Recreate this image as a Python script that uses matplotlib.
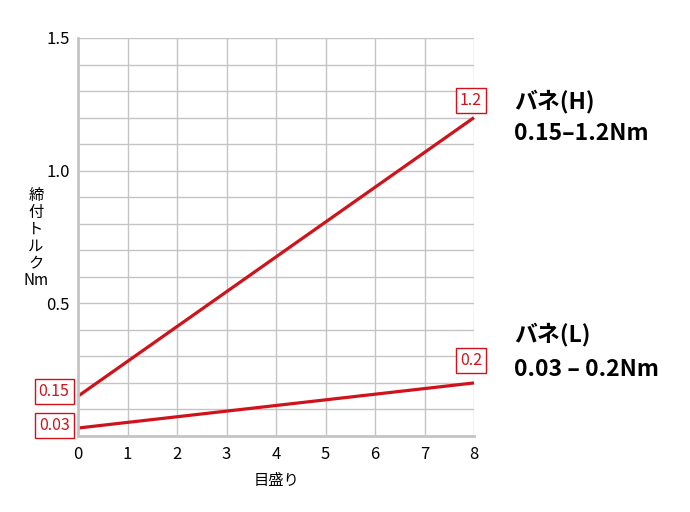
import numpy as np
import matplotlib
matplotlib.use("Agg")
import matplotlib.pyplot as plt

plt.rcParams['font.family'] = ['Noto Sans CJK JP', 'DejaVu Sans']

# data
scale_x = [0, 8]
spring_h = [0.15, 1.2]
spring_l = [0.03, 0.2]
x_ticks = [0, 1, 2, 3, 4, 5, 6, 7, 8]
y_ticks = [0.5, 1.0, 1.5]
y_label = ['締', '付', 'ト', 'ル', 'ク', 'Nm']
x_label = '目盛り'
h_title = ['バネ(H)', '0.15–1.2Nm']
l_title = ['バネ(L)', '0.03 – 0.2Nm']

red = '#d0121b'
grey = '#c4c4c4'

fig = plt.figure(figsize=(6.9, 5.12), dpi=100)
ax = fig.add_axes([78/690, 76/512, 396/690, 398/512])

ax.set_xlim(0, 8)
ax.set_ylim(0, 1.5)
ax.set_xticks(x_ticks)
ax.set_yticks(y_ticks)
ax.set_yticklabels(['%.1f' % v for v in y_ticks])
ax.set_yticks(np.arange(0, 1.51, 0.1), minor=True)
ax.grid(True, which='both', color=grey, lw=1.0)
ax.tick_params(which='both', length=0, labelsize=12, pad=7)
ax.tick_params(axis='y', pad=6)
for s in ['top', 'right']:
    ax.spines[s].set_visible(False)
for s in ['left', 'bottom']:
    ax.spines[s].set_color(grey)
    ax.spines[s].set_linewidth(2)
ax.set_axisbelow(True)

ax.plot(scale_x, spring_h, color=red, lw=2.3, clip_on=False, solid_capstyle='butt')
ax.plot(scale_x, spring_l, color=red, lw=2.3, clip_on=False, solid_capstyle='butt')

box = dict(boxstyle='square,pad=0.25', fc='white', ec=red, lw=1)
ax.text(-0.17, spring_h[0] + 0.018, '%.2f' % spring_h[0], color=red, fontsize=11.5,
        ha='right', va='center', bbox=box, clip_on=False)
ax.text(-0.17, spring_l[0] + 0.008, '%.2f' % spring_l[0], color=red, fontsize=11.5,
        ha='right', va='center', bbox=box, clip_on=False)
ax.text(7.94, spring_h[1] + 0.066, '%.1f' % spring_h[1], color=red, fontsize=11.5,
        ha='center', va='center', bbox=box, clip_on=False)
ax.text(7.94, spring_l[1] + 0.083, '%.1f' % spring_l[1], color=red, fontsize=11.5,
        ha='center', va='center', bbox=box, clip_on=False)

fig.text(36/690, 1 - 238/512, '\n'.join(y_label), ha='center', va='center',
         fontsize=11, linespacing=1.0)
fig.text(276/690, 1 - 480/512, x_label, ha='center', va='center', fontsize=11)

for txt, yp in [(h_title[0], 101), (h_title[1], 134), (l_title[0], 334), (l_title[1], 369)]:
    fig.text(514/690, 1 - yp/512, txt, ha='left', va='center', fontsize=16.5, fontweight='bold')

fig.savefig('out.png', dpi=100)
